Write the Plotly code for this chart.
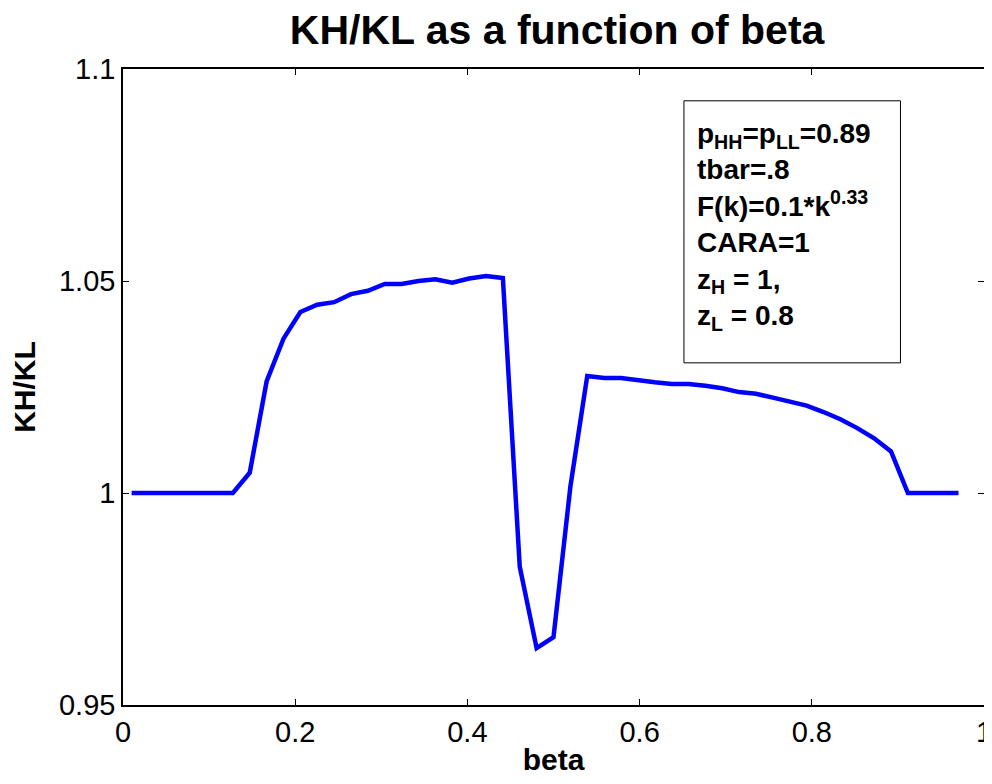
import plotly.graph_objects as go

beta = [0.01, 0.0296, 0.0492, 0.0688, 0.0884, 0.108, 0.1276, 0.1472, 0.1668, 0.1864,
        0.206, 0.2256, 0.2452, 0.2648, 0.2844, 0.304, 0.3236, 0.3432, 0.3628, 0.3824,
        0.402, 0.4216, 0.4412, 0.4608, 0.4804, 0.5, 0.5196, 0.5392, 0.5588, 0.5784,
        0.598, 0.6176, 0.6372, 0.6568, 0.6764, 0.696, 0.7156, 0.7352, 0.7548, 0.7744,
        0.794, 0.8136, 0.8332, 0.8528, 0.8724, 0.892, 0.9116, 0.9312, 0.9508, 0.9704]

kh_kl = [1.0, 1.0, 1.0, 1.0, 1.0, 1.0, 1.0, 1.0048, 1.0263, 1.0364,
         1.0427, 1.0444, 1.0450, 1.0469, 1.0477, 1.0493, 1.0493, 1.0500, 1.0504, 1.0496,
         1.0506, 1.0512, 1.0507, 0.9826, 0.9634, 0.9660, 1.0015, 1.0276, 1.0271, 1.0271,
         1.0265, 1.0261, 1.0257, 1.0257, 1.0253, 1.0247, 1.0238, 1.0234, 1.0225, 1.0216,
         1.0206, 1.0191, 1.0174, 1.0153, 1.0129, 1.0098, 1.0, 1.0, 1.0, 1.0]

x_ticks = [0, 0.2, 0.4, 0.6, 0.8, 1]
x_tick_labels = ["0", "0.2", "0.4", "0.6", "0.8", "1"]
y_ticks = [0.95, 1.0, 1.05, 1.1]
y_tick_labels = ["0.95", "1", "1.05", "1.1"]

title_text = "KH/KL as a function of beta"
x_label = "beta"
y_label = "KH/KL"
info_lines = ["p<sub>HH</sub>=p<sub>LL</sub>=0.89", "tbar=.8", "F(k)=0.1*k<sup>0.33</sup>",
              "CARA=1", "z<sub>H</sub> = 1,", "z<sub>L</sub> = 0.8"]

FONT = "Liberation Sans, Arial, Helvetica, sans-serif"

fig = go.Figure()
fig.add_trace(go.Scatter(x=beta, y=kh_kl, mode="lines",
                         line=dict(color="#0000ff", width=4.5), showlegend=False,
                         hoverinfo="x+y"))

axis_common = dict(showgrid=False, zeroline=False, showline=True, linecolor="black",
                   linewidth=1.5, mirror="ticks", ticks="inside", ticklen=6,
                   tickcolor="black", tickwidth=1, automargin=False,
                   ticklabeloverflow="allow",
                   tickfont=dict(family=FONT, size=29, color="black"))

fig.update_xaxes(range=[0, 1], tickvals=x_ticks, ticktext=x_tick_labels,
                 title=dict(text="<b>" + x_label + "</b>", font=dict(family=FONT, size=30, color="black"),
                            standoff=7),
                 **axis_common)
fig.update_yaxes(range=[0.95, 1.1], tickvals=y_ticks, ticktext=y_tick_labels,
                 title=dict(text="<b>" + y_label + "</b>", font=dict(family=FONT, size=30, color="black"),
                            standoff=19),
                 **axis_common)

fig.add_shape(type="rect", xref="x", yref="y", x0=0.6515, x1=0.903, y0=1.0307, y1=1.0925,
              line=dict(color="black", width=1), fillcolor="white", layer="above")
fig.add_annotation(x=0.6648, y=1.0888, xref="x", yref="y", xanchor="left", yanchor="top",
                   align="left", showarrow=False,
                   text="<b>" + "<br>".join(info_lines) + "</b>",
                   font=dict(family=FONT, size=28, color="black"))

fig.update_layout(
    width=984, height=768,
    margin=dict(l=115, r=8, t=61, b=71, autoexpand=False),
    paper_bgcolor="white", plot_bgcolor="white",
    title=dict(text="<b>" + title_text + "</b>", x=0.558, xanchor="center", y=0.9717, yanchor="middle",
               font=dict(family=FONT, size=41, color="black")),
)

fig.write_html("out.html")
